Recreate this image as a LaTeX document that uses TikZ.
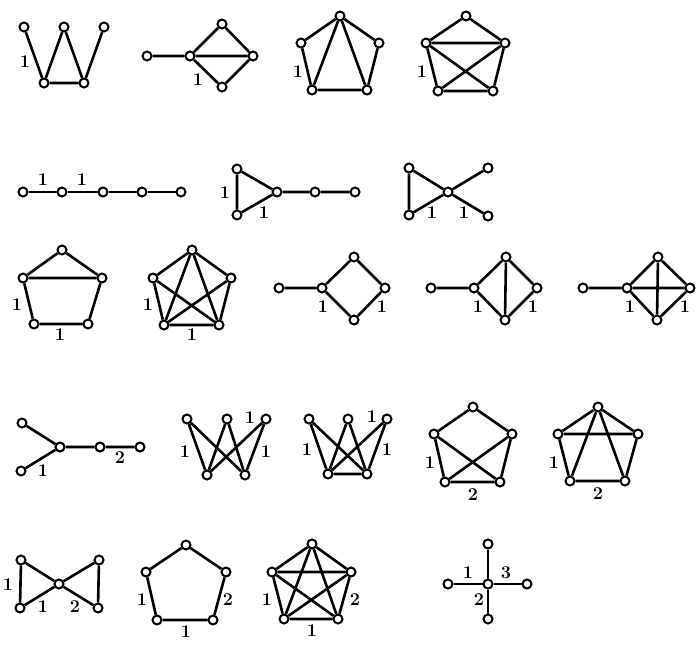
\documentclass[tikz,border=0pt]{standalone}
\usepackage{fontspec}
\begin{document}
\begin{tikzpicture}[x=1pt,y=-1pt,
  v/.style={circle,draw,fill=white,inner sep=0pt,minimum size=9pt,line width=2pt},
  lbl/.style={font=\fontsize{18}{18}\selectfont\bfseries,inner sep=0pt},
  ed/.style={line width=2.6pt}]
\useasboundingbox (0,0) rectangle (696,648);
% ---------- Graph A (W)
\node[v] (a1) at (24,27) {}; \node[v] (a2) at (64,27) {}; \node[v] (a3) at (104,27) {};
\node[v] (a4) at (44,83) {}; \node[v] (a5) at (84,83) {};
\draw[ed] (a1)--(a4) (a4)--(a2) (a2)--(a5) (a5)--(a3) (a4)--(a5);
\node[lbl] (la1) at (25,62) {1};
% ---------- Graph B
\node[v] (b1) at (147,56) {}; \node[v] (b2) at (190,56) {}; \node[v] (b3) at (222,24) {};
\node[v] (b4) at (253,56) {}; \node[v] (b5) at (222,87) {};
\draw[ed] (b1)--(b2) (b2)--(b3) (b3)--(b4) (b4)--(b5) (b5)--(b2) (b2)--(b4);
\node[lbl] (lb1) at (198,80) {1};
% ---------- Graph C
\node[v] (c1) at (340,16) {}; \node[v] (c2) at (301,43) {}; \node[v] (c3) at (379,43) {};
\node[v] (c4) at (312,90) {}; \node[v] (c5) at (367,90) {};
\draw[ed] (c1)--(c2) (c1)--(c3) (c2)--(c4) (c3)--(c5) (c4)--(c5) (c1)--(c4) (c1)--(c5);
\node[lbl] (lc1) at (298,72) {1};
% ---------- Graph D
\node[v] (d1) at (466,16) {}; \node[v] (d2) at (426,43) {}; \node[v] (d3) at (505,43) {};
\node[v] (d4) at (438,91) {}; \node[v] (d5) at (493,91) {};
\draw[ed] (d1)--(d2) (d1)--(d3) (d2)--(d3) (d2)--(d4) (d3)--(d5) (d4)--(d5) (d2)--(d5) (d3)--(d4);
\node[lbl] (ld1) at (422,72) {1};
% ---------- Graph E (path)
\node[v] (e1) at (23,192) {}; \node[v] (e2) at (62,192) {}; \node[v] (e3) at (103,192) {};
\node[v] (e4) at (142,192) {}; \node[v] (e5) at (181,192) {};
\draw[ed] (e1)--(e2) (e2)--(e3) (e3)--(e4) (e4)--(e5);
\node[lbl] (le1) at (43,180) {1}; \node[lbl] (le2) at (82,180) {1};
% ---------- Graph F
\node[v] (f1) at (237,169) {}; \node[v] (f2) at (237,215) {}; \node[v] (f3) at (277,192) {};
\node[v] (f4) at (315,192) {}; \node[v] (f5) at (355,192) {};
\draw[ed] (f1)--(f2) (f1)--(f3) (f2)--(f3) (f3)--(f4) (f4)--(f5);
\node[lbl] (lf1) at (225,193) {1}; \node[lbl] (lf2) at (264,213) {1};
% ---------- Graph G
\node[v] (g1) at (409,168) {}; \node[v] (g2) at (409,215) {}; \node[v] (g3) at (448,192) {};
\node[v] (g4) at (488,168) {}; \node[v] (g5) at (488,216) {};
\draw[ed] (g1)--(g2) (g1)--(g3) (g2)--(g3) (g3)--(g4) (g3)--(g5);
\node[lbl] (lg1) at (432,213) {1}; \node[lbl] (lg2) at (464,213) {1};
% ---------- Graph H
\node[v] (h1) at (62,250) {}; \node[v] (h2) at (23,278) {}; \node[v] (h3) at (102,278) {};
\node[v] (h4) at (34,324) {}; \node[v] (h5) at (88,324) {};
\draw[ed] (h1)--(h2) (h1)--(h3) (h2)--(h3) (h2)--(h4) (h3)--(h5) (h4)--(h5);
\node[lbl] (lh1) at (17,305) {1}; \node[lbl] (lh2) at (60,335) {1};
% ---------- Graph I
\node[v] (i1) at (192,250) {}; \node[v] (i2) at (153,278) {}; \node[v] (i3) at (231,278) {};
\node[v] (i4) at (164,325) {}; \node[v] (i5) at (219,325) {};
\draw[ed] (i1)--(i2) (i1)--(i3) (i1)--(i4) (i1)--(i5) (i2)--(i4) (i2)--(i5) (i3)--(i4) (i3)--(i5) (i4)--(i5);
\node[lbl] (li1) at (148,305) {1}; \node[lbl] (li2) at (192,335) {1};
% ---------- Graph J
\node[v] (j1) at (279,288) {}; \node[v] (j2) at (322,288) {}; \node[v] (j3) at (354,257) {};
\node[v] (j4) at (385,288) {}; \node[v] (j5) at (354,320) {};
\draw[ed] (j1)--(j2) (j2)--(j3) (j3)--(j4) (j4)--(j5) (j5)--(j2);
\node[lbl] (lj1) at (323,307) {1}; \node[lbl] (lj2) at (382,307) {1};
% ---------- Graph K
\node[v] (k1) at (431,288) {}; \node[v] (k2) at (474,288) {}; \node[v] (k3) at (506,257) {};
\node[v] (k4) at (537,288) {}; \node[v] (k5) at (505,320) {};
\draw[ed] (k1)--(k2) (k2)--(k3) (k3)--(k4) (k4)--(k5) (k5)--(k2) (k3)--(k5);
\node[lbl] (lk1) at (478,307) {1}; \node[lbl] (lk2) at (533,307) {1};
% ---------- Graph L
\node[v] (l1) at (583,288) {}; \node[v] (l2) at (627,288) {}; \node[v] (l3) at (658,257) {};
\node[v] (l4) at (690,288) {}; \node[v] (l5) at (657,320) {};
\draw[ed] (l1)--(l2) (l2)--(l3) (l3)--(l4) (l4)--(l5) (l5)--(l2) (l3)--(l5) (l2)--(l4);
\node[lbl] (ll1) at (630,307) {1}; \node[lbl] (ll2) at (685,307) {1};
% ---------- Graph M
\node[v] (m1) at (22,423) {}; \node[v] (m2) at (21,471) {}; \node[v] (m3) at (60,447) {};
\node[v] (m4) at (100,447) {}; \node[v] (m5) at (140,447) {};
\draw[ed] (m1)--(m3) (m2)--(m3) (m3)--(m4) (m4)--(m5);
\node[lbl] (lm1) at (43,471) {1}; \node[lbl] (lm2) at (120,458) {2};
% ---------- Graph N
\node[v] (n1) at (187,419) {}; \node[v] (n2) at (227,419) {}; \node[v] (n3) at (266,419) {};
\node[v] (n4) at (207,475) {}; \node[v] (n5) at (245,475) {};
\draw[ed] (n1)--(n4) (n1)--(n5) (n2)--(n4) (n2)--(n5) (n3)--(n4) (n3)--(n5);
\node[lbl] (ln1) at (185,452) {1}; \node[lbl] (ln2) at (250,418) {1}; \node[lbl] (ln3) at (266,452) {1};
% ---------- Graph O
\node[v] (o1) at (309,419) {}; \node[v] (o2) at (348,419) {}; \node[v] (o3) at (387,419) {};
\node[v] (o4) at (328,474) {}; \node[v] (o5) at (367,474) {};
\draw[ed] (o1)--(o4) (o1)--(o5) (o2)--(o4) (o2)--(o5) (o3)--(o4) (o3)--(o5) (o4)--(o5);
\node[lbl] (lo1) at (307,450) {1}; \node[lbl] (lo2) at (372,417) {1}; \node[lbl] (lo3) at (387,450) {1};
% ---------- Graph P
\node[v] (p1) at (473,407) {}; \node[v] (p2) at (434,434) {}; \node[v] (p3) at (512,434) {};
\node[v] (p4) at (445,482) {}; \node[v] (p5) at (500,482) {};
\draw[ed] (p1)--(p2) (p1)--(p3) (p2)--(p4) (p3)--(p5) (p4)--(p5) (p2)--(p5) (p3)--(p4);
\node[lbl] (lp1) at (430,463) {1}; \node[lbl] (lp2) at (473,495) {2};
% ---------- Graph Q
\node[v] (q1) at (598,407) {}; \node[v] (q2) at (558,434) {}; \node[v] (q3) at (638,434) {};
\node[v] (q4) at (570,481) {}; \node[v] (q5) at (625,481) {};
\draw[ed] (q1)--(q2) (q1)--(q3) (q2)--(q3) (q2)--(q4) (q3)--(q5) (q4)--(q5) (q1)--(q4) (q1)--(q5);
\node[lbl] (lq1) at (554,463) {1}; \node[lbl] (lq2) at (598,494) {2};
% ---------- Graph R
\node[v] (r1) at (21,560) {}; \node[v] (r2) at (20,608) {}; \node[v] (r3) at (59,584) {};
\node[v] (r4) at (99,560) {}; \node[v] (r5) at (98,608) {};
\draw[ed] (r1)--(r2) (r1)--(r3) (r2)--(r3) (r3)--(r4) (r3)--(r5) (r4)--(r5);
\node[lbl] (lr1) at (8,585) {1}; \node[lbl] (lr2) at (43,607) {1}; \node[lbl] (lr3) at (75,607) {2};
% ---------- Graph S
\node[v] (s1) at (186,545) {}; \node[v] (s2) at (146,572) {}; \node[v] (s3) at (226,572) {};
\node[v] (s4) at (157,620) {}; \node[v] (s5) at (213,620) {};
\draw[ed] (s1)--(s2) (s2)--(s4) (s4)--(s5) (s5)--(s3) (s3)--(s1);
\node[lbl] (ls1) at (142,600) {1}; \node[lbl] (ls2) at (228,600) {2}; \node[lbl] (ls3) at (186,632) {1};
% ---------- Graph T (K5)
\node[v] (t1) at (312,544) {}; \node[v] (t2) at (272,572) {}; \node[v] (t3) at (351,572) {};
\node[v] (t4) at (284,619) {}; \node[v] (t5) at (338,619) {};
\draw[ed] (t1)--(t2) (t1)--(t3) (t1)--(t4) (t1)--(t5) (t2)--(t3) (t2)--(t4) (t2)--(t5) (t3)--(t4) (t3)--(t5) (t4)--(t5);
\node[lbl] (lt1) at (267,600) {1}; \node[lbl] (lt2) at (355,600) {2}; \node[lbl] (lt3) at (312,631) {1};
% ---------- Graph U (star)
\node[v] (u1) at (488,584) {}; \node[v] (u2) at (488,544) {}; \node[v] (u3) at (448,584) {};
\node[v] (u4) at (527,584) {}; \node[v] (u5) at (488,619) {};
\draw[ed] (u1)--(u2) (u1)--(u3) (u1)--(u4) (u1)--(u5);
\node[lbl] (lu1) at (468,573) {1}; \node[lbl] (lu2) at (506,573) {3}; \node[lbl] (lu3) at (479,600) {2};
\end{tikzpicture}
\end{document}
